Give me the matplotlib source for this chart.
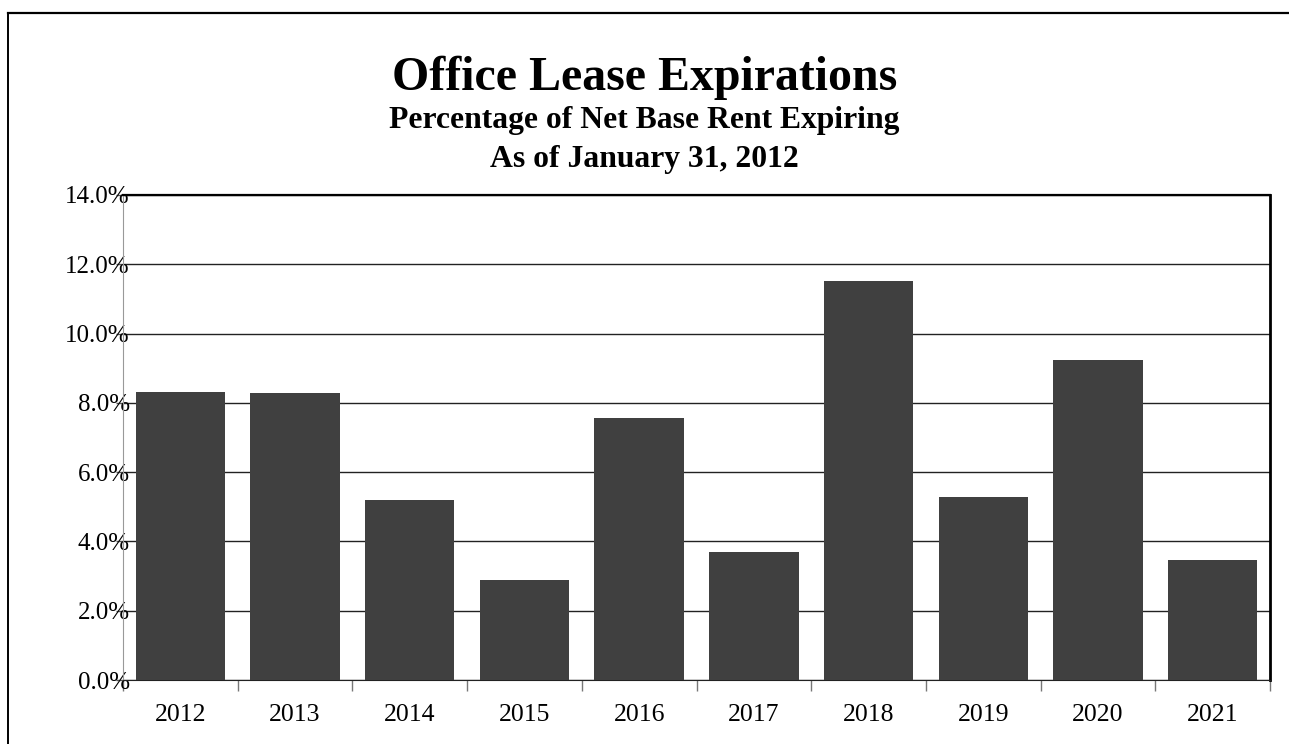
import matplotlib.pyplot as plt
from matplotlib.lines import Line2D
from matplotlib.ticker import FuncFormatter, FixedLocator

# Share of net base rent expiring each year (%)
years = ['2012', '2013', '2014', '2015', '2016', '2017', '2018', '2019', '2020', '2021']
pct_expiring = [8.31, 8.29, 5.20, 2.90, 7.56, 3.70, 11.52, 5.28, 9.25, 3.47]

title = 'Office Lease Expirations'
subtitle_1 = 'Percentage of Net Base Rent Expiring'
subtitle_2 = 'As of January 31, 2012'

plt.rcParams['font.family'] = ['Liberation Serif', 'DejaVu Serif']

fig = plt.figure(figsize=(12.89, 7.44), dpi=100)
ax = fig.add_axes([0.0954, 0.086, 0.8899, 0.652])

x = range(len(years))
ax.bar(x, pct_expiring, width=0.78, color='#404040', zorder=3)

ax.set_xlim(-0.5, len(years) - 0.5)
ax.set_ylim(0, 14)

# horizontal gridlines
ax.set_yticks(range(0, 15, 2))
ax.yaxis.set_major_formatter(FuncFormatter(lambda v, _: f'{v:.1f}%'))
ax.grid(axis='y', color='#222222', linewidth=1.0, zorder=0)
ax.tick_params(axis='y', direction='out', length=5, width=1, color='#555555',
               labelsize=18, pad=-10)
for lbl in ax.get_yticklabels():
    lbl.set_horizontalalignment('right')

# category labels centred, small tick marks between categories
ax.set_xticks(list(x))
ax.set_xticklabels(years)
ax.tick_params(axis='x', length=0, labelsize=18.5, pad=17)
ax.xaxis.set_minor_locator(FixedLocator([i + 0.5 for i in range(-1, len(years))]))
ax.tick_params(axis='x', which='minor', direction='out', length=8, width=1, color='#777777')

ax.spines['left'].set_color('#999999')
ax.spines['left'].set_linestyle((0, (1, 1)))
ax.spines['bottom'].set_color('#222222')
ax.spines['top'].set_color('black')
ax.spines['top'].set_linewidth(1.6)
ax.spines['right'].set_color('black')
ax.spines['right'].set_linewidth(2.0)

fig.text(0.5, 0.879, title, ha='center', va='baseline', fontsize=34.5, fontweight='bold')
fig.text(0.5, 0.828, subtitle_1, ha='center', va='baseline', fontsize=22.8, fontweight='bold')
fig.text(0.5, 0.7755, subtitle_2, ha='center', va='baseline', fontsize=22.8, fontweight='bold')

# outer frame (top and left edges)
fig.add_artist(Line2D([0.0062, 1.0], [0.983, 0.983], color='black', linewidth=1.6,
                      transform=fig.transFigure))
fig.add_artist(Line2D([0.0062, 0.0062], [0.0, 0.983], color='black', linewidth=1.4,
                      transform=fig.transFigure))

fig.savefig('out.png', dpi=100)
